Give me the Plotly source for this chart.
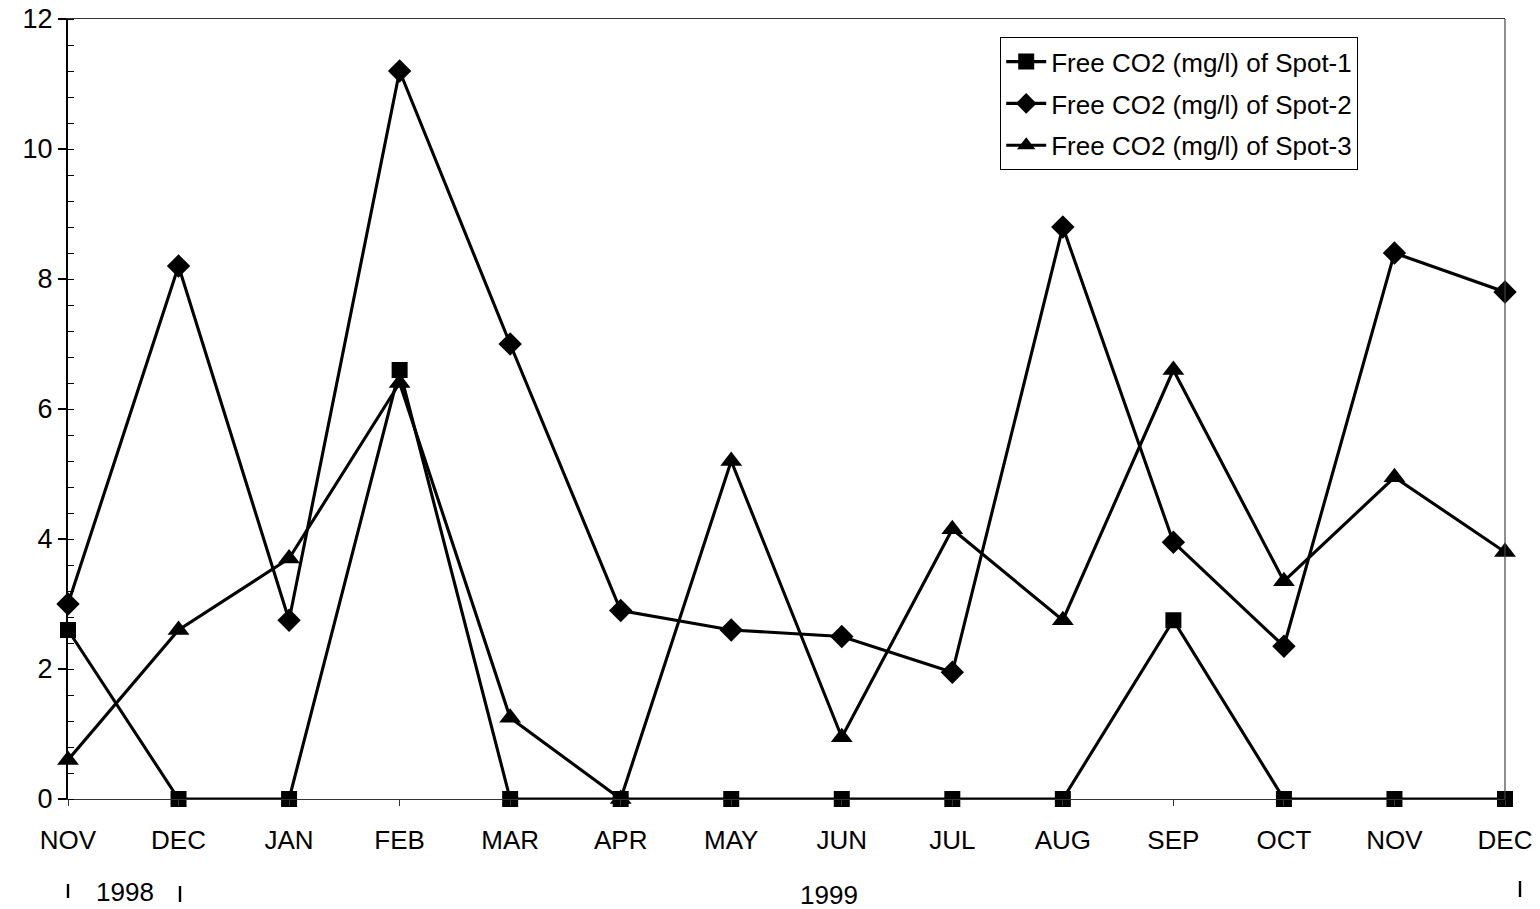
import plotly.graph_objects as go

months = ["NOV", "DEC", "JAN", "FEB", "MAR", "APR", "MAY", "JUN", "JUL", "AUG", "SEP", "OCT", "NOV", "DEC"]
x_idx = list(range(len(months)))

spot1 = [2.6, 0.0, 0.0, 6.6, 0.0, 0.0, 0.0, 0.0, 0.0, 0.0, 2.75, 0.0, 0.0, 0.0]
spot2 = [3.0, 8.2, 2.75, 11.2, 7.0, 2.9, 2.6, 2.5, 1.95, 8.8, 3.95, 2.35, 8.4, 7.8]
spot3 = [0.6, 2.6, 3.7, 6.4, 1.25, 0.0, 5.2, 0.95, 4.15, 2.75, 6.6, 3.35, 4.95, 3.8]

series_names = ["Free CO2 (mg/l) of Spot-1", "Free CO2 (mg/l) of Spot-2", "Free CO2 (mg/l) of Spot-3"]
symbols = ["square", "diamond", "triangle-up"]
marker_sizes = [16, 18, 19]
y_ticks = [0, 2, 4, 6, 8, 10, 12]
years = ["1998", "1999"]

FONT = "Liberation Sans, Arial, sans-serif"
FS = 26

fig = go.Figure()
for i, (name, vals, sym, ms) in enumerate(zip(series_names, [spot1, spot2, spot3], symbols, marker_sizes)):
    fig.add_trace(go.Scatter(
        x=x_idx, y=vals, name=name, mode="lines+markers", legendgroup=f"g{i}",
        line=dict(color="black", width=3.1),
        marker=dict(symbol=sym, size=ms, color="black", line=dict(width=0)),
        cliponaxis=False,
    ))

fig.update_layout(
    width=1540, height=909,
    margin=dict(l=68, r=35, t=19, b=110),
    paper_bgcolor="white", plot_bgcolor="white",
    font=dict(family=FONT, size=FS, color="black"),
    showlegend=True,
    legend=dict(
        x=(1000 - 68) / 1437, y=(799 - 37) / 780, xanchor="left", yanchor="top",
        bgcolor="white", bordercolor="black", borderwidth=1.2,
        font=dict(family=FONT, size=FS, color="black"),
        itemwidth=40, tracegroupgap=5,
    ),
    xaxis=dict(
        range=[0, 13], tickmode="array", tickvals=x_idx, ticktext=months,
        showgrid=False, zeroline=False, automargin=False,
        showline=True, linecolor="#333", linewidth=1.2, mirror=True,
        ticks="outside", ticklen=6, tickcolor="#333", ticklabelstandoff=12,
        tickfont=dict(family=FONT, size=FS, color="black"),
    ),
    yaxis=dict(
        range=[0, 12], tickmode="array", tickvals=y_ticks,
        showgrid=False, zeroline=False, automargin=False,
        showline=True, linecolor="black", linewidth=2, mirror=False,
        ticks="outside", ticklen=8, tickcolor="black", tickwidth=1.5,
        tickfont=dict(family=FONT, size=27, color="black"),
        minor=dict(ticks="inside", dtick=0.4, ticklen=6, tickcolor="black", tickwidth=1),
    ),
)

# Thin right border of the plot frame
fig.add_shape(type="line", xref="paper", yref="paper", x0=1, x1=1, y0=0, y1=1,
              line=dict(color="#444", width=1.2))

# Year labels under the month axis
fig.add_annotation(x=0.52, y=-(892 - 799) / 780, xref="x", yref="paper", text=years[0],
                   xanchor="center", yanchor="middle",
                   showarrow=False, font=dict(family=FONT, size=FS, color="black"))
fig.add_annotation(x=6.88, y=-(895 - 799) / 780, xref="x", yref="paper", text=years[1],
                   xanchor="center", yanchor="middle",
                   showarrow=False, font=dict(family=FONT, size=FS, color="black"))

# Small year-separator marks
for xv, y0, y1 in [(0.0, -(898 - 799) / 780, -(884 - 799) / 780),
                   (112 / 1437, -(902 - 799) / 780, -(886 - 799) / 780),
                   ((1520 - 68) / 1437, -(897 - 799) / 780, -(881 - 799) / 780)]:
    fig.add_shape(type="line", xref="paper", yref="paper", x0=xv, x1=xv, y0=y0, y1=y1,
                  line=dict(color="black", width=2.4))

fig.write_html("out.html", config={"displayModeBar": False},
               post_script="document.body.style.margin='0';document.body.style.overflow='hidden';")
